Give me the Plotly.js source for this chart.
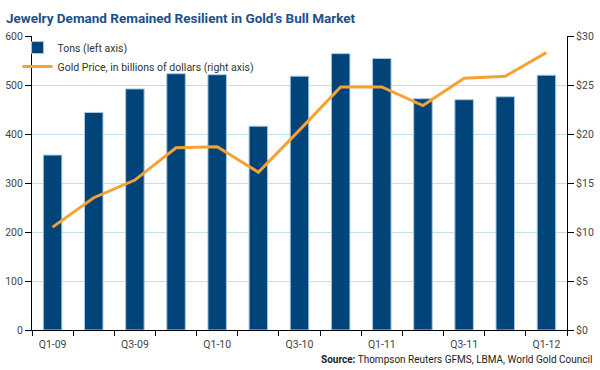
<!DOCTYPE html>
<html>
<head>
<meta charset="utf-8">
<script src="https://cdn.plot.ly/plotly-3.0.1.min.js"></script>
<style>
html,body{margin:0;padding:0;background:#fff;}
#chart{width:600px;height:370px;}
</style>
</head>
<body>
<div id="chart"></div>
<script>
var quarters = ["Q1-09","Q2-09","Q3-09","Q4-09","Q1-10","Q2-10","Q3-10","Q4-10","Q1-11","Q2-11","Q3-11","Q4-11","Q1-12"];
var tickLabels = ["Q1-09","","Q3-09","","Q1-10","","Q3-10","","Q1-11","","Q3-11","","Q1-12"];
var tons = [357, 444, 492, 523, 521, 416, 518, 564, 554, 472, 470, 476, 520];
var goldPrice = [10.5, 13.5, 15.3, 18.6, 18.7, 16.1, 20.4, 24.8, 24.8, 22.9, 25.7, 25.9, 28.3];

var FONT = "'Liberation Sans Narrow', Roboto, 'Liberation Sans', sans-serif";

var traces = [
  {
    type: "bar",
    x: quarters,
    y: tons,
    name: "Tons (left axis)",
    width: 0.45,
    marker: {color: "#004479", line: {color: "#a9c9df", width: 1}},
    yaxis: "y"
  },
  {
    type: "scatter",
    mode: "lines",
    x: quarters,
    y: goldPrice,
    name: "Gold Price, in billions of dollars (right axis)",
    line: {color: "#f7a133", width: 3},
    yaxis: "y2"
  }
];

var layout = {
  width: 600,
  height: 370,
  margin: {l: 32, r: 33, t: 36, b: 40},
  paper_bgcolor: "#ffffff",
  plot_bgcolor: "#ffffff",
  font: {family: FONT, size: 11, color: "#333333"},
  title: {
    text: "<b>Jewelry Demand Remained Resilient in Gold\u2019s Bull Market</b>",
    font: {family: FONT, size: 13.5, color: "#1c5189"},
    x: 0.01, xanchor: "left", xref: "container",
    y: 0.95, yanchor: "middle", yref: "container"
  },
  showlegend: true,
  legend: {
    x: -0.027, y: 1.01, xanchor: "left", yanchor: "top",
    bgcolor: "rgba(0,0,0,0)",
    font: {family: FONT, size: 10.5, color: "#333333"},
    tracegroupgap: 0,
    itemwidth: 30
  },
  bargap: 0.55,
  xaxis: {
    type: "category",
    tickmode: "array",
    tickvals: quarters,
    ticktext: tickLabels,
    tickson: "boundaries",
    ticks: "outside",
    ticklen: 5,
    tickcolor: "#000000",
    ticklabelstandoff: 4,
    showline: true,
    linecolor: "#000000",
    linewidth: 1,
    showgrid: false,
    tickfont: {family: FONT, size: 10.5, color: "#444444"},
    fixedrange: true
  },
  yaxis: {
    range: [0, 600],
    dtick: 100,
    ticks: "outside",
    ticklen: 6,
    tickcolor: "#000000",
    showline: true,
    linecolor: "#000000",
    linewidth: 1,
    showgrid: true,
    gridcolor: "#bfe3ee",
    gridwidth: 1,
    zeroline: false,
    tickfont: {family: FONT, size: 10.5, color: "#444444"}
  },
  yaxis2: {
    range: [0, 30],
    dtick: 5,
    tickprefix: "$",
    overlaying: "y",
    side: "right",
    ticks: "outside",
    ticklen: 6,
    tickcolor: "#000000",
    showline: true,
    linecolor: "#000000",
    linewidth: 1,
    showgrid: false,
    zeroline: false,
    tickfont: {family: FONT, size: 10.5, color: "#444444"}
  },
  annotations: [
    {
      text: "<b>Source:</b> Thompson Reuters GFMS, LBMA, World Gold Council",
      xref: "paper", yref: "paper",
      x: 1.05, y: -0.075,
      xanchor: "right", yanchor: "top",
      showarrow: false,
      font: {family: FONT, size: 10, color: "#222222"}
    }
  ]
};

Plotly.newPlot("chart", traces, layout, {displayModeBar: false, staticPlot: true});
</script>
</body>
</html>
